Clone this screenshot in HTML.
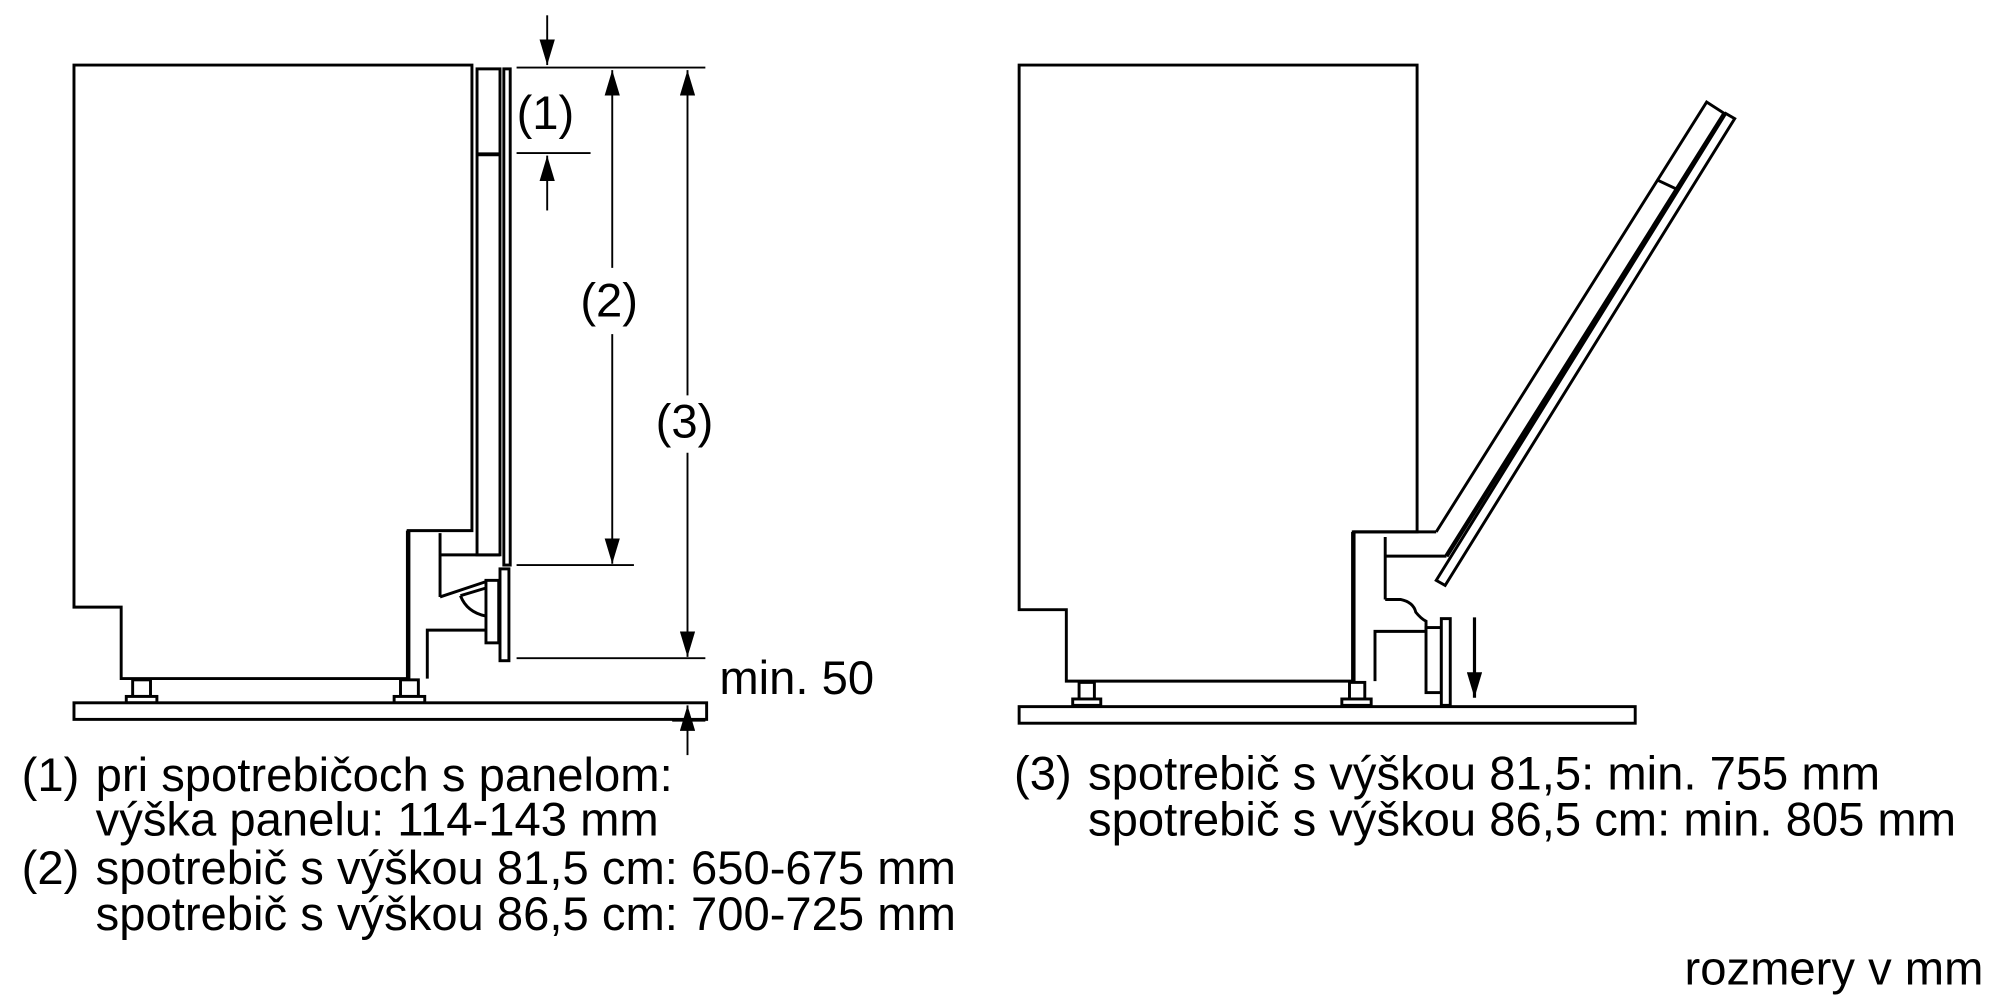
<!DOCTYPE html>
<html><head><meta charset="utf-8"><style>
html,body{margin:0;padding:0;background:#fff;}
svg{display:block;}
text{font-family:"Liberation Sans",sans-serif;fill:#000;}
</style></head><body>
<svg width="2000" height="1000" viewBox="0 0 1568 784" xmlns="http://www.w3.org/2000/svg">
<defs>
<marker id="ah" markerWidth="20" markerHeight="12" refX="20" refY="6" orient="auto" markerUnits="userSpaceOnUse" viewBox="0 0 20 12"><path d="M0,0 L20,6 L0,12 Z" fill="#000"/></marker>
</defs>
<g fill="none" stroke="#000" stroke-width="2.3" stroke-linejoin="miter">
<path d="M58,51 H370 V416 H320 V532 H95 V476 H58 Z" fill="#fff"/>
<path d="M335,532 V494 H381"/>
<path d="M320,416 V532" stroke-width="3.5"/>
<path d="M345,418 V468 M345,435 H392 M345,468 L381,456 M361,467 L381,461 M361,467 Q366,480 381,483"/>
<rect x="374" y="54" width="18" height="381" fill="#fff"/>
<path d="M374,121 H392" stroke-width="3"/>
<rect x="395" y="54" width="5" height="389" fill="#fff"/>
<rect x="392" y="446" width="7" height="72" fill="#fff"/>
<rect x="381" y="455" width="10" height="49" fill="#fff"/>
<rect x="104" y="533" width="14" height="13" fill="#fff"/>
<rect x="99" y="546" width="24" height="5" fill="#fff"/>
<rect x="314" y="533" width="14" height="13" fill="#fff"/>
<rect x="309" y="546" width="24" height="5" fill="#fff"/>
<rect x="58" y="551" width="496" height="13" fill="#fff"/>
<g stroke-width="1.5">
<path d="M405,53 H553 M405,120 H463 M405,443 H497 M405,516 H553 M527,565 H553"/>
<path d="M429,12 V51" marker-end="url(#ah)"/>
<path d="M429,165 V122" marker-end="url(#ah)"/>
<path d="M480,210 V55" marker-end="url(#ah)"/>
<path d="M480,262 V442" marker-end="url(#ah)"/>
<path d="M539,310 V55" marker-end="url(#ah)"/>
<path d="M539,355 V515" marker-end="url(#ah)"/>
<path d="M539,592 V553" marker-end="url(#ah)"/>
</g>
<path d="M799,51 H1111 V417 H1061 V534 H836 V478 H799 Z" fill="#fff"/>
<path d="M1061,417 V534" stroke-width="3.5"/>
<path d="M1061,417 H1126 M1086,421 V470 M1086,436 H1134 M1086,470 H1098 Q1108,472 1110,480 Q1114,485 1118,487 V495 H1078 V534"/>
<path d="M1126,417 L1338,80 L1352,89 L1134,436"/>
<path d="M1126,455 L1353,89 L1360,93 L1133,459 Z" fill="#fff"/>
<path d="M1134,436 L1352,89" stroke-width="3.5"/>
<path d="M1299,141 L1314,148"/>
<rect x="1118" y="492" width="12" height="51" fill="#fff"/>
<rect x="1130" y="485" width="7" height="68" fill="#fff"/>
<rect x="846" y="535" width="12" height="13" fill="#fff"/>
<rect x="841" y="548" width="22" height="5" fill="#fff"/>
<rect x="1058" y="535" width="12" height="13" fill="#fff"/>
<rect x="1052" y="548" width="23" height="5" fill="#fff"/>
<rect x="799" y="554" width="483" height="13" fill="#fff"/>
<path d="M1156,484 V547" stroke-width="2.5" marker-end="url(#ah)"/>
</g>
<g font-size="37">
<text x="405" y="101">(1)</text>
<text x="455" y="248">(2)</text>
<text x="514" y="343">(3)</text>
<text x="564" y="544">min. 50</text>
<text x="17" y="620">(1)</text><text x="75" y="620">pri spotrebičoch s panelom:</text>
<text x="75" y="655">výška panelu: 114-143 mm</text>
<text x="17" y="693">(2)</text><text x="75" y="693">spotrebič s výškou 81,5 cm: 650-675 mm</text>
<text x="75" y="729">spotrebič s výškou 86,5 cm: 700-725 mm</text>
<text x="795" y="619">(3)</text><text x="853" y="619">spotrebič s výškou 81,5: min. 755 mm</text>
<text x="853" y="655">spotrebič s výškou 86,5 cm: min. 805 mm</text>
<text x="1555" y="772" text-anchor="end">rozmery v mm</text>
</g>
</svg>
</body></html>
